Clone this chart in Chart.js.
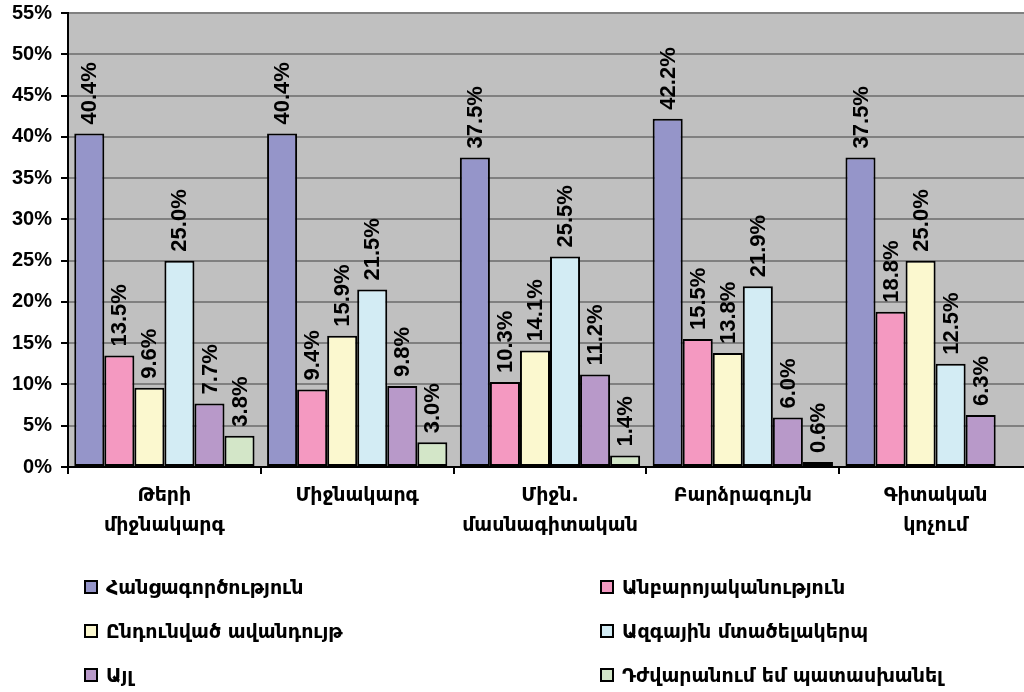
<!DOCTYPE html>
<html>
<head>
<meta charset="utf-8">
<script src="https://cdn.jsdelivr.net/npm/chart.js@4.4.1/dist/chart.umd.min.js"></script>
<style>
    html, body { margin: 0; padding: 0; background: #fff; overflow: hidden; width: 1024px; height: 692px; }
    #wrap { position: absolute; left: 0; top: 0; width: 1032px; height: 545px; }
    #legend { position: absolute; left: 0; top: 0; width: 1024px; height: 692px; pointer-events: none;
        font-family: "DejaVu Sans", sans-serif; font-weight: bold; font-size: 19px; color: #000; }
    .item { position: absolute; display: flex; align-items: center; white-space: nowrap; height: 24px; }
    .box { width: 10px; height: 10px; border: 2px solid #000; margin-right: 8px; }
</style>
</head>
<body>
<div id="wrap"><canvas id="chart"></canvas></div>
<div id="legend"></div>
<script>
const categories = [
    ['Թերի', 'միջնակարգ'],
    'Միջնակարգ',
    ['Միջն.', 'մասնագիտական'],
    'Բարձրագույն',
    ['Գիտական', 'կոչում']
];
const seriesNames = [
    'Հանցագործություն',
    'Անբարոյականություն',
    'Ընդունված ավանդույթ',
    'Ազգային մտածելակերպ',
    'Այլ',
    'Դժվարանում եմ պատասխանել'
];
const crime = [40.4, 40.4, 37.5, 42.2, 37.5];
const immorality = [13.5, 9.4, 10.3, 15.5, 18.8];
const tradition = [9.6, 15.9, 14.1, 13.8, 25.0];
const mentality = [25.0, 21.5, 25.5, 21.9, 12.5];
const other = [7.7, 9.8, 11.2, 6.0, 6.3];
const noAnswer = [3.8, 3.0, 1.4, 0.6, null];
const yTicks = [0, 5, 10, 15, 20, 25, 30, 35, 40, 45, 50, 55];

const colors = ['#9595C9', '#F499C1', '#FBF8CF', '#D3ECF4', '#B899C9', '#D3E6C8'];
const values = [crime, immorality, tradition, mentality, other, noAnswer];

// grey plot background
const plotBg = {
    id: 'plotBg',
    beforeDraw(chart) {
        const a = chart.chartArea;
        const ctx = chart.ctx;
        ctx.save();
        ctx.fillStyle = '#C0C0C0';
        ctx.fillRect(a.left, a.top, a.right - a.left, a.bottom - a.top);
        ctx.restore();
    }
};

// rotated value labels above the bars
const barLabels = {
    id: 'barLabels',
    afterDatasetsDraw(chart) {
        const ctx = chart.ctx;
        ctx.save();
        ctx.font = 'bold 22px "Liberation Sans", Arial, sans-serif';
        ctx.fillStyle = '#000';
        ctx.textAlign = 'left';
        ctx.textBaseline = 'middle';
        chart.data.datasets.forEach((ds, i) => {
            chart.getDatasetMeta(i).data.forEach((bar, j) => {
                const v = ds.data[j];
                if (v === null) return;
                ctx.save();
                ctx.translate(bar.x, bar.y - 9);
                ctx.rotate(-Math.PI / 2);
                ctx.fillText(v.toFixed(1) + '%', 0, 1);
                ctx.restore();
            });
        });
        ctx.restore();
    }
};

new Chart(document.getElementById('chart'), {
    type: 'bar',
    data: {
        labels: categories,
        datasets: seriesNames.map((name, i) => ({
            label: name,
            data: values[i],
            backgroundColor: colors[i],
            borderColor: '#000',
            borderWidth: 2,
            borderSkipped: false,
            categoryPercentage: 0.935,
            barPercentage: 1
        }))
    },
    options: {
        responsive: true,
        maintainAspectRatio: false,
        animation: false,
        layout: { padding: { top: 13, right: 0, left: 0, bottom: 0 } },
        plugins: {
            legend: { display: false },
            tooltip: { enabled: false }
        },
        scales: {
            x: {
                grid: { drawOnChartArea: false, tickColor: '#000', tickLength: 7, lineWidth: 2, offset: true },
                border: { color: '#000', width: 2 },
                ticks: {
                    color: '#000',
                    font: { family: '"DejaVu Sans", sans-serif', weight: 'bold', size: 19, lineHeight: 1.58 },
                    maxRotation: 0,
                    autoSkip: false,
                    padding: 7
                },
                afterFit(scale) { scale.height = 78; scale.paddingLeft = 0; scale.paddingRight = 0; }
            },
            y: {
                min: 0,
                max: 55,
                afterBuildTicks(scale) { scale.ticks = yTicks.map(v => ({ value: v })); },
                grid: { color: '#808080', lineWidth: 2, tickColor: '#000', tickLength: 7 },
                border: { color: '#000', width: 2 },
                ticks: {
                    color: '#000',
                    font: { family: '"Liberation Sans", Arial, sans-serif', weight: 'bold', size: 20 },
                    padding: 9,
                    callback: v => v + '%'
                },
                afterFit(scale) { scale.width = 68; scale.paddingTop = 0; scale.paddingBottom = 0; }
            }
        }
    },
    plugins: [plotBg, barLabels]
});

// two-column legend below the chart
const legend = document.getElementById('legend');
const colX = [84, 600];
const rowY = [587, 631, 675];
seriesNames.forEach((name, i) => {
    const el = document.createElement('div');
    el.className = 'item';
    el.style.left = colX[i % 2] + 'px';
    el.style.top = (rowY[Math.floor(i / 2)] - 12) + 'px';
    el.innerHTML = '<span class="box" style="background:' + colors[i] + '"></span><span>' + name + '</span>';
    legend.appendChild(el);
});
</script>
</body>
</html>
